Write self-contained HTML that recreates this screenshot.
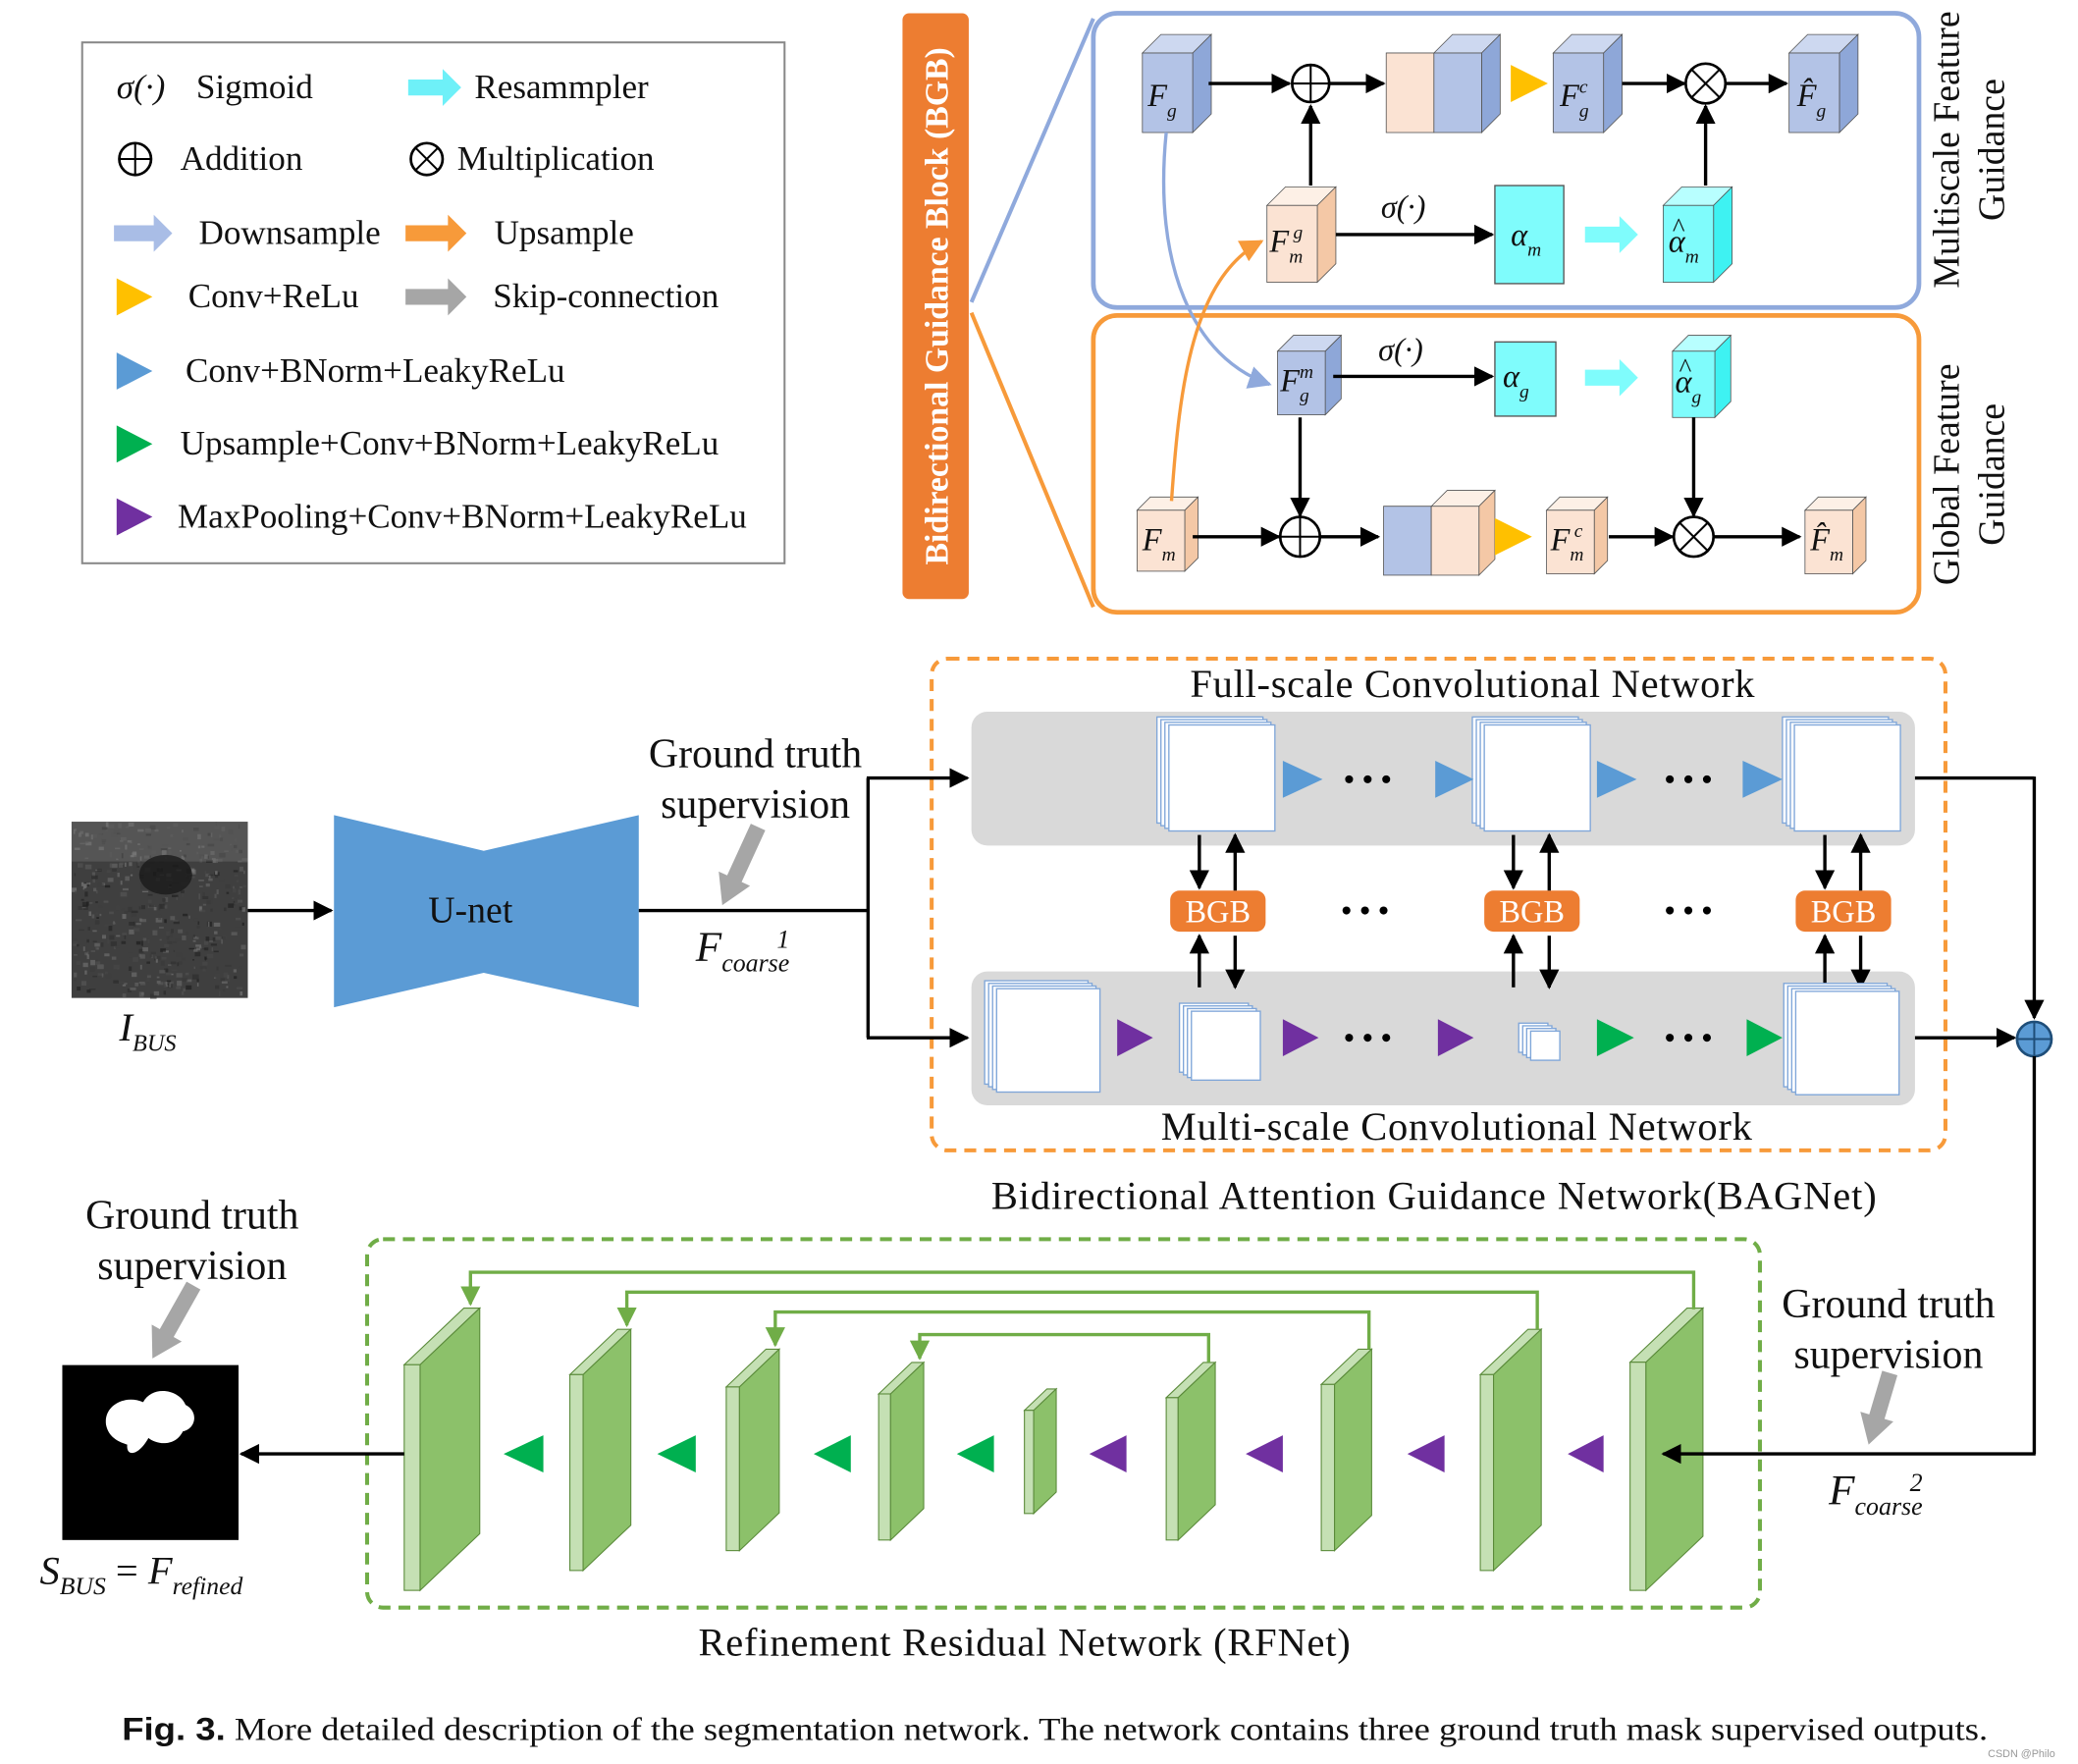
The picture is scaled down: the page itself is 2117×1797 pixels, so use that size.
<!DOCTYPE html>
<html><head><meta charset="utf-8"><style>
html,body{margin:0;padding:0;background:#fff}
svg{display:block}
text{font-family:"Liberation Serif",serif;fill:#111}
.i{font-style:italic}
</style></head><body>
<svg id="s" width="2117" height="1797" viewBox="0 0 1568 1331" xmlns="http://www.w3.org/2000/svg">
<defs>
<marker id="ah" viewBox="0 0 10 10" refX="9" refY="5" markerWidth="6" markerHeight="6" orient="auto"><path d="M0,0L10,5L0,10z" fill="#000"/></marker>
<marker id="ahb" viewBox="0 0 10 10" refX="9" refY="5" markerWidth="7" markerHeight="7" orient="auto"><path d="M0,0L10,5L0,10z" fill="#8fa9dc"/></marker>
<marker id="aho" viewBox="0 0 10 10" refX="9" refY="5" markerWidth="7" markerHeight="7" orient="auto"><path d="M0,0L10,5L0,10z" fill="#f79a3a"/></marker>
<marker id="ahg" viewBox="0 0 10 10" refX="9" refY="5" markerWidth="6" markerHeight="6" orient="auto"><path d="M0,0L10,5L0,10z" fill="#70ad47"/></marker>
</defs>
<g id="g"></g>
</svg>
<script>
const g=document.getElementById('g');let h='';
const A=s=>h+=s;
function cube(x,y,w,hh,d,f,s,t){A(`<polygon points="${x},${y} ${x+d},${y-d} ${x+w+d},${y-d} ${x+w},${y}" fill="${t}" stroke="#555" stroke-width=".6"/><polygon points="${x+w},${y} ${x+w+d},${y-d} ${x+w+d},${y+hh-d} ${x+w},${y+hh}" fill="${s}" stroke="#555" stroke-width=".6"/><rect x="${x}" y="${y}" width="${w}" height="${hh}" fill="${f}" stroke="#555" stroke-width=".6"/>`);}
const B=['#b3c3e6','#8ea7d8','#cdd8f0'],P=['#fbe3d3','#f4c8a6','#fdf0e6'],C=['#7ffcfc','#3ef2f2','#b8ffff'];
function cb(x,y,w,hh,d,c){cube(x,y,w,hh,d,c[0],c[1],c[2]);}
function ln(x1,y1,x2,y2,m,c='#000',w=2.5){A(`<line x1="${x1}" y1="${y1}" x2="${x2}" y2="${y2}" stroke="${c}" stroke-width="${w}" ${m?`marker-end="url(#${m})"`:''}/>`);}
function tx(x,y,s,sz=24,o=''){A(`<text x="${x}" y="${y}" font-size="${sz}" ${o}>${s}</text>`);}
function oplus(x,y,r,c='#000',f='#fff'){A(`<circle cx="${x}" cy="${y}" r="${r}" fill="${f}" stroke="${c}" stroke-width="2"/><line x1="${x-r}" y1="${y}" x2="${x+r}" y2="${y}" stroke="${c}" stroke-width="1.5"/><line x1="${x}" y1="${y-r}" x2="${x}" y2="${y+r}" stroke="${c}" stroke-width="1.5"/>`);}
function otimes(x,y,r){let k=r*.707;A(`<circle cx="${x}" cy="${y}" r="${r}" fill="#fff" stroke="#000" stroke-width="2"/><line x1="${x-k}" y1="${y-k}" x2="${x+k}" y2="${y+k}" stroke="#000" stroke-width="1.5"/><line x1="${x-k}" y1="${y+k}" x2="${x+k}" y2="${y-k}" stroke="#000" stroke-width="1.5"/>`);}
function tri(x1,x2,y,c,hh=14){A(`<polygon points="${x1},${y-hh} ${x2},${y} ${x1},${y+hh}" fill="${c}"/>`);}
function ltri(x1,x2,y,c,hh=14){A(`<polygon points="${x2},${y-hh} ${x1},${y} ${x2},${y+hh}" fill="${c}"/>`);}
function fat(x1,x2,y,c){A(`<polygon points="${x1},${y-6} ${x2-14},${y-6} ${x2-14},${y-14} ${x2},${y} ${x2-14},${y+14} ${x2-14},${y+6} ${x1},${y+6}" fill="${c}"/>`);}
function sub(x,y,b,sb,sp,sz=24){A(`<text x="${x}" y="${y}" font-size="${sz}" class="i">${b}<tspan font-size="${sz*.6}" dy="8">${sb}</tspan>${sp?`<tspan font-size="${sz*.6}" dx="-${sz*.3}" dy="-18">${sp}</tspan>`:''}</text>`);}
function hat(x,y){A(`<text x="${x}" y="${y}" font-size="20">^</text>`);}
// legend
A('<rect x="62" y="32" width="530" height="393" fill="#fff" stroke="#888" stroke-width="1.5"/>');
const L=26;
tx(88,74,'σ(·)',L,'class="i"');tx(148,74,'Sigmoid',L);
fat(308,348,66,'#6ef0f8');tx(358,74,'Resammpler',L);
oplus(102,120,12);tx(136,128,'Addition',L);
otimes(322,120,12);tx(345,128,'Multiplication',L);
fat(86,130,176,'#a9bde6');tx(150,184,'Downsample',L);
fat(306,352,176,'#f79a3a');tx(373,184,'Upsample',L);
tri(88,115,224,'#ffc000');tx(142,232,'Conv+ReLu',L);
fat(306,352,224,'#a6a6a6');tx(372,232,'Skip-connection',L);
tri(88,115,280,'#5b9bd5');tx(140,288,'Conv+BNorm+LeakyReLu',L);
tri(88,115,335,'#00b050');tx(136,343,'Upsample+Conv+BNorm+LeakyReLu',L);
tri(88,115,390,'#7030a0');tx(134,398,'MaxPooling+Conv+BNorm+LeakyReLu',L);
// BGB bar
A('<rect x="681" y="10" width="50" height="442" rx="5" fill="#ed7d31"/>');
A('<text transform="translate(715,231) rotate(-90)" text-anchor="middle" font-size="25" font-weight="bold" style="fill:#fff">Bidirectional Guidance Block (BGB)</text>');
ln(733,228,825,14,0,'#8fa9dc',3);ln(733,236,825,458,0,'#f79a3a',3);
A('<rect x="825" y="10" width="623" height="222" rx="18" fill="none" stroke="#8fa9dc" stroke-width="3.5"/>');
A('<rect x="825" y="238" width="623" height="224" rx="18" fill="none" stroke="#f79a3a" stroke-width="3.5"/>');
A('<text transform="translate(1478,113) rotate(-90)" text-anchor="middle" font-size="28">Multiscale Feature</text><text transform="translate(1512,113) rotate(-90)" text-anchor="middle" font-size="28">Guidance</text>');
A('<text transform="translate(1478,358) rotate(-90)" text-anchor="middle" font-size="28">Global Feature</text><text transform="translate(1512,358) rotate(-90)" text-anchor="middle" font-size="28">Guidance</text>');
// top panel
cb(862,40,38,60,14,B);sub(866,80,'F','g');
ln(912,63,973,63,'ah');oplus(989,63,14);ln(1003,63,1044,63,'ah');
cube(1046,40,36,60,0,P[0],P[1],P[2]);cb(1082,40,36,60,14,B);
tri(1140,1168,63,'#ffc000');
cb(1172,40,38,60,14,B);sub(1177,80,'F','g','c');
ln(1224,63,1271,63,'ah');otimes(1287,63,15);ln(1302,63,1348,63,'ah');
cb(1350,40,38,60,14,B);sub(1356,80,'F̂','g');
cb(956,155,38,58,14,P);sub(958,190,'F','m','g');
ln(989,140,989,80,'ah');
tx(1042,164,'σ(·)',24,'class="i"');ln(1008,177,1126,177,'ah');
A('<rect x="1128" y="140" width="52" height="74" fill="#7ffcfc" stroke="#555"/>');sub(1140,185,'α','m');
fat(1196,1236,177,'#7ffcfc');
cb(1255,155,38,58,14,C);sub(1259,190,'α','m');hat(1262,178);
ln(1287,140,1287,80,'ah');
// bottom panel
cb(964,265,36,48,12,B);sub(966,295,'F','g','m');
tx(1040,272,'σ(·)',24,'class="i"');ln(1006,284,1126,284,'ah');
A('<rect x="1128" y="258" width="46" height="56" fill="#7ffcfc" stroke="#555"/>');sub(1134,292,'α','g');
fat(1196,1236,285,'#7ffcfc');
cb(1262,265,32,50,12,C);sub(1264,296,'α','g');hat(1267,284);
ln(981,315,981,389,'ah');ln(1278,315,1278,389,'ah');
cb(858,385,36,46,10,P);sub(862,415,'F','m');
ln(900,405,965,405,'ah');oplus(981,405,15);ln(996,405,1040,405,'ah');
cube(1044,382,36,52,0,B[0],B[1],B[2]);cb(1080,382,36,52,12,P);
tri(1128,1156,405,'#ffc000');
cb(1167,385,36,48,10,P);sub(1170,415,'F','m','c');
ln(1214,405,1262,405,'ah');otimes(1278,405,15);ln(1293,405,1358,405,'ah');
cb(1362,385,36,48,10,P);sub(1366,415,'F̂','m');
A('<path d="M880,100 C870,200 900,270 958,290" fill="none" stroke="#8fa9dc" stroke-width="2.5" marker-end="url(#ahb)"/>');
A('<path d="M884,378 C890,290 900,210 952,182" fill="none" stroke="#f79a3a" stroke-width="2.5" marker-end="url(#aho)"/>');
// BAGNet
A('<rect x="703" y="497" width="765" height="371" rx="12" fill="none" stroke="#f79a3a" stroke-width="3" stroke-dasharray="9,6"/>');
A('<rect x="733" y="537" width="712" height="101" rx="12" fill="#d9d9d9"/><rect x="733" y="733" width="712" height="101" rx="12" fill="#d9d9d9"/>');
tx(1111,526,'Full-scale Convolutional Network',30,'text-anchor="middle" textLength="426"');
tx(1099,860,'Multi-scale Convolutional Network',30,'text-anchor="middle" textLength="446"');
tx(1082,912,'Bidirectional Attention Guidance Network(BAGNet)',30,'text-anchor="middle" textLength="668"');
function stackr(x,y,s){for(let k=0;k<4;k++)A(`<rect x="${x+k*3}" y="${y+k*2}" width="${s}" height="${s}" fill="#fff" stroke="#7fa6d9" stroke-width="1"/>`);}
stackr(873,541,80);stackr(1111,541,80);stackr(1345,541,80);
tri(968,998,588,'#5b9bd5');tri(1083,1112,588,'#5b9bd5');tri(1205,1235,588,'#5b9bd5');tri(1315,1345,588,'#5b9bd5');
function dots(x,y){for(let k=0;k<3;k++)A(`<circle cx="${x+k*14}" cy="${y}" r="3" fill="#000"/>`);}
dots(1018,588);dots(1260,588);dots(1016,687);dots(1260,687);dots(1018,783);dots(1260,783);
[883,1120,1355].forEach(x=>{A(`<rect x="${x}" y="672" width="72" height="31" rx="7" fill="#ed7d31"/>`);tx(x+36,696,'BGB',24,'text-anchor="middle" style="fill:#fff"');
ln(x+22,630,x+22,670,'ah',"#000",2.5);ln(x+49,672,x+49,630,'ah');ln(x+22,745,x+22,706,'ah');ln(x+49,706,x+49,745,'ah');});
stackr(743,740,78);stackr(890,757,52);stackr(1146,772,22);stackr(1346,742,78);
tri(843,870,783,'#7030a0');tri(968,995,783,'#7030a0');tri(1085,1112,783,'#7030a0');
tri(1205,1233,783,'#00b050');tri(1318,1345,783,'#00b050');
// input
let n='';for(let i=0;i<500;i++){let x=54+Math.random()*130,y=620+Math.random()*130,c=Math.floor(20+Math.random()*110);n+=`<rect x="${x.toFixed(1)}" y="${y.toFixed(1)}" width="${(1+Math.random()*4).toFixed(1)}" height="${(1+Math.random()*3).toFixed(1)}" fill="rgb(${c},${c},${c})" opacity=".6"/>`;}
A('<rect x="54" y="620" width="133" height="133" fill="#3f3f3f"/><g clip-path="none">'+n+'</g>');
A('<rect x="54" y="620" width="133" height="30" fill="#777" opacity=".4"/><ellipse cx="125" cy="660" rx="20" ry="15" fill="#1a1a1a" opacity=".8"/><rect x="187" y="610" width="20" height="150" fill="#fff"/>');
sub(90,785,'I','BUS','',30);
ln(187,687,250,687,'ah');
A('<polygon points="252,615 365,642 482,615 482,760 365,734 252,760" fill="#5b9bd5"/>');
tx(355,696,'U-net',28,'text-anchor="middle"');
ln(482,687,655,687,0);ln(655,587,655,783,0);ln(654,587,730,587,'ah');ln(654,783,730,783,'ah');
tx(570,579,'Ground truth',31,'text-anchor="middle"');tx(570,617,'supervision',31,'text-anchor="middle"');
function garrow(x1,y1,x2,y2){let dx=x2-x1,dy=y2-y1,L=Math.hypot(dx,dy),ux=dx/L,uy=dy/L,px=-uy,py=ux,bx=x2-ux*22,by=y2-uy*22;
A(`<polygon points="${x1+px*6},${y1+py*6} ${bx+px*6},${by+py*6} ${bx+px*13},${by+py*13} ${x2},${y2} ${bx-px*13},${by-py*13} ${bx-px*6},${by-py*6} ${x1-px*6},${y1-py*6}" fill="#a6a6a6"/>`);}
garrow(572,624,545,683);
sub(525,725,'F','coarse','1',32);
ln(1445,587,1535,587,0);ln(1535,586,1535,768,'ah');ln(1445,783,1520,783,'ah');
oplus(1535,784,13,'#1f4e79','#5b9bd5');
ln(1535,797,1535,1097,0);
// RFNet
A('<rect x="277" y="935" width="1051" height="278" rx="12" fill="none" stroke="#70ad47" stroke-width="3" stroke-dasharray="9,6"/>');
tx(773,1249,'Refinement Residual Network (RFNet)',30,'text-anchor="middle" textLength="492"');
function slab(x,t,b,dx,st){let sk=dx*.95;A(`<polygon points="${x},${t+sk} ${x+dx},${t} ${x+dx+st},${t} ${x+st},${t+sk}" fill="#c5e0b4" stroke="#5a8a3a" stroke-width=".8"/><rect x="${x}" y="${t+sk}" width="${st}" height="${b-t-sk}" fill="#c5e0b4" stroke="#5a8a3a" stroke-width=".8"/><polygon points="${x+st},${t+sk} ${x+st+dx},${t} ${x+st+dx},${b-sk} ${x+st},${b}" fill="#8cc16a" stroke="#5a8a3a" stroke-width=".8"/>`);}
slab(305,987,1200,45,12);slab(430,1003,1185,36,10);slab(548,1018,1170,30,10);slab(663,1028,1162,25,9);slab(773,1048,1142,17,7);
slab(880,1028,1162,28,9);slab(997,1018,1170,28,10);slab(1117,1003,1185,36,10);slab(1230,987,1200,43,12);
ln(1536,1097,1255,1097,'ah');
[[380,410],[496,525],[614,642],[722,750]].forEach(a=>ltri(a[0],a[1],1097,'#00b050'));
[[822,850],[940,968],[1062,1090],[1183,1210]].forEach(a=>ltri(a[0],a[1],1097,'#7030a0'));
function skip(x1,y1,yt,x2,y2){A(`<polyline points="${x1},${y1} ${x1},${yt} ${x2},${yt} ${x2},${y2}" fill="none" stroke="#70ad47" stroke-width="2.5" marker-end="url(#ahg)"/>`);}
skip(1278,988,960,355,984);skip(1160,1003,975,473,1000);skip(1033,1018,990,585,1015);skip(912,1028,1007,694,1025);
ln(305,1097,182,1097,'ah');
A('<rect x="47" y="1030" width="133" height="132" fill="#000"/>');
A('<path d="M80,1075 C78,1060 95,1052 108,1058 C115,1045 135,1048 140,1060 C150,1065 148,1078 138,1080 C132,1092 118,1090 112,1085 C105,1098 95,1100 96,1090 C90,1088 82,1085 80,1075Z" fill="#fff"/>');
A('<text x="30" y="1195" font-size="30" class="i">S<tspan font-size="19" dy="8">BUS</tspan><tspan dy="-8" font-style="normal"> = </tspan>F<tspan font-size="19" dy="8">refined</tspan></text>');
tx(145,927,'Ground truth',31,'text-anchor="middle"');tx(145,965,'supervision',31,'text-anchor="middle"');
garrow(146,970,115,1025);
tx(1425,994,'Ground truth',31,'text-anchor="middle"');tx(1425,1032,'supervision',31,'text-anchor="middle"');
garrow(1426,1036,1410,1090);
sub(1380,1135,'F','coarse','2',32);
// caption
A('<text x="92" y="1313" font-size="24" textLength="1408" lengthAdjust="spacingAndGlyphs"><tspan font-weight="bold" style="font-family:\'Liberation Sans\',sans-serif">Fig. 3.</tspan>  More detailed description of the segmentation network. The network contains three ground truth mask supervised outputs.</text>');
A('<text x="1500" y="1326" font-size="8" style="fill:#999;font-family:\'Liberation Sans\',sans-serif">CSDN @Philo</text>');
g.innerHTML=h;
</script>
</body></html>
